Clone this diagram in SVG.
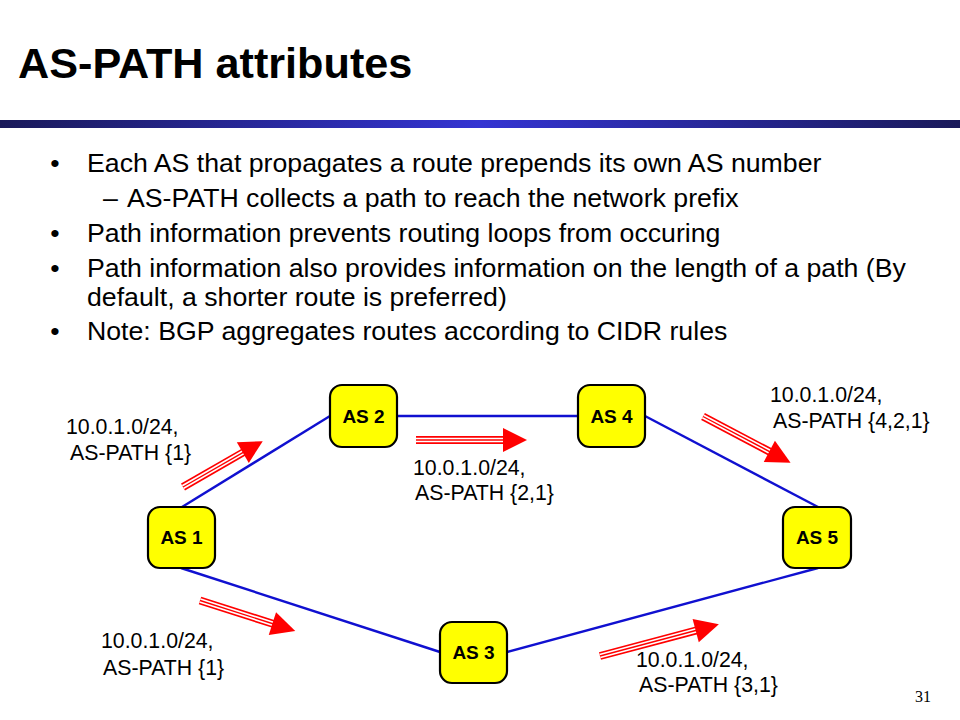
<svg xmlns="http://www.w3.org/2000/svg" width="960" height="720" viewBox="0 0 960 720">
<defs>
<linearGradient id="bar" x1="0" y1="0" x2="1" y2="0">
<stop offset="0" stop-color="#1a1a5a"/>
<stop offset="0.5" stop-color="#3434d2"/>
<stop offset="1" stop-color="#1a1a5a"/>
</linearGradient>
</defs>
<style>
.title{font-family:"Liberation Sans",Arial,sans-serif;font-weight:bold;font-size:43.2px;fill:#000}
.body{font-family:"Liberation Sans",Arial,sans-serif;font-size:26.7px;fill:#000}
.lbl{font-family:"Liberation Sans",Arial,sans-serif;font-size:21.3px;fill:#000}
.node rect{fill:#ffff00;stroke:#000;stroke-width:2.2}
.node text{font-family:"Liberation Sans",Arial,sans-serif;font-weight:bold;font-size:19px;fill:#000;text-anchor:middle}
.edge{stroke:#1010d0;stroke-width:2.4;fill:none}
.s1{stroke:#ff0000;stroke-width:8}
.s2{stroke:#ffffff;stroke-width:4.6}
.s3{stroke:#ff0000;stroke-width:1.4}
.head{fill:#ff0000}
.num{font-family:"Liberation Serif","Times New Roman",serif;font-size:16px;fill:#000}
</style>
<rect width="960" height="720" fill="#ffffff"/>
<text class="title" x="18" y="78">AS-PATH attributes</text>
<rect x="0" y="120" width="960" height="8" fill="url(#bar)"/>
<g id="bullets" class="body">
<text x="55" y="172" text-anchor="middle">•</text>
<text x="87" y="172">Each AS that propagates a route prepends its own AS number</text>
<text x="103" y="207">–</text>
<text x="127" y="207">AS-PATH collects a path to reach the network prefix</text>
<text x="55" y="242" text-anchor="middle">•</text>
<text x="87" y="242">Path information prevents routing loops from occuring</text>
<text x="55" y="277" text-anchor="middle">•</text>
<text x="87" y="277">Path information also provides information on the length of a path (By</text>
<text x="87" y="306">default, a shorter route is preferred)</text>
<text x="55" y="340" text-anchor="middle">•</text>
<text x="87" y="340">Note: BGP aggregates routes according to CIDR rules</text>
</g>
<g id="connectors">
<line class="edge" x1="182" y1="507" x2="330" y2="416"/>
<line class="edge" x1="397" y1="416" x2="578" y2="416"/>
<line class="edge" x1="645" y1="416" x2="818" y2="507"/>
<line class="edge" x1="818" y1="568" x2="507" y2="652"/>
<line class="edge" x1="181" y1="568" x2="440" y2="652"/>
</g>
<g id="arrows">
<g transform="translate(183,487) rotate(-29.9)">
<line class="s1" x1="0" y1="0" x2="72" y2="0"/><line class="s2" x1="0" y1="0" x2="72" y2="0"/><line class="s3" x1="0" y1="0" x2="72" y2="0"/>
<polygon class="head" points="69,-12 92,0 69,12"/>
</g>
<g transform="translate(416,440)">
<line class="s1" x1="0" y1="0" x2="90" y2="0"/><line class="s2" x1="0" y1="0" x2="90" y2="0"/><line class="s3" x1="0" y1="0" x2="90" y2="0"/>
<polygon class="head" points="87,-12 111,0 87,12"/>
</g>
<g transform="translate(703,416.5) rotate(27.8)">
<line class="s1" x1="0" y1="0" x2="78" y2="0"/><line class="s2" x1="0" y1="0" x2="78" y2="0"/><line class="s3" x1="0" y1="0" x2="78" y2="0"/>
<polygon class="head" points="75,-12 99,0 75,12"/>
</g>
<g transform="translate(200,600.5) rotate(17.7)">
<line class="s1" x1="0" y1="0" x2="79" y2="0"/><line class="s2" x1="0" y1="0" x2="79" y2="0"/><line class="s3" x1="0" y1="0" x2="79" y2="0"/>
<polygon class="head" points="76,-12 100,0 76,12"/>
</g>
<g transform="translate(600,656) rotate(-14.9)">
<line class="s1" x1="0" y1="0" x2="102" y2="0"/><line class="s2" x1="0" y1="0" x2="102" y2="0"/><line class="s3" x1="0" y1="0" x2="102" y2="0"/>
<polygon class="head" points="99,-12 123,0 99,12"/>
</g>
</g>
<g id="labels" class="lbl">
<text x="66" y="434">10.0.1.0/24,</text>
<text x="70" y="460">AS-PATH {1}</text>
<text x="413" y="475">10.0.1.0/24,</text>
<text x="415" y="500">AS-PATH {2,1}</text>
<text x="770" y="402">10.0.1.0/24,</text>
<text x="773" y="428">AS-PATH {4,2,1}</text>
<text x="101" y="648">10.0.1.0/24,</text>
<text x="103" y="675">AS-PATH {1}</text>
<text x="636" y="667">10.0.1.0/24,</text>
<text x="639" y="692">AS-PATH {3,1}</text>
</g>
<g id="as1" class="node"><rect x="148" y="507" width="67" height="61" rx="12"/><text x="181.5" y="544">AS 1</text></g>
<g id="as2" class="node"><rect x="330" y="385" width="67" height="62" rx="12"/><text x="363.5" y="422.5">AS 2</text></g>
<g id="as4" class="node"><rect x="578" y="385" width="67" height="62" rx="12"/><text x="611.5" y="422.5">AS 4</text></g>
<g id="as5" class="node"><rect x="783" y="507" width="68" height="61" rx="12"/><text x="817" y="544">AS 5</text></g>
<g id="as3" class="node"><rect x="440" y="622" width="67" height="61" rx="12"/><text x="473.5" y="659">AS 3</text></g>
<text class="num" x="915" y="702">31</text>
</svg>
